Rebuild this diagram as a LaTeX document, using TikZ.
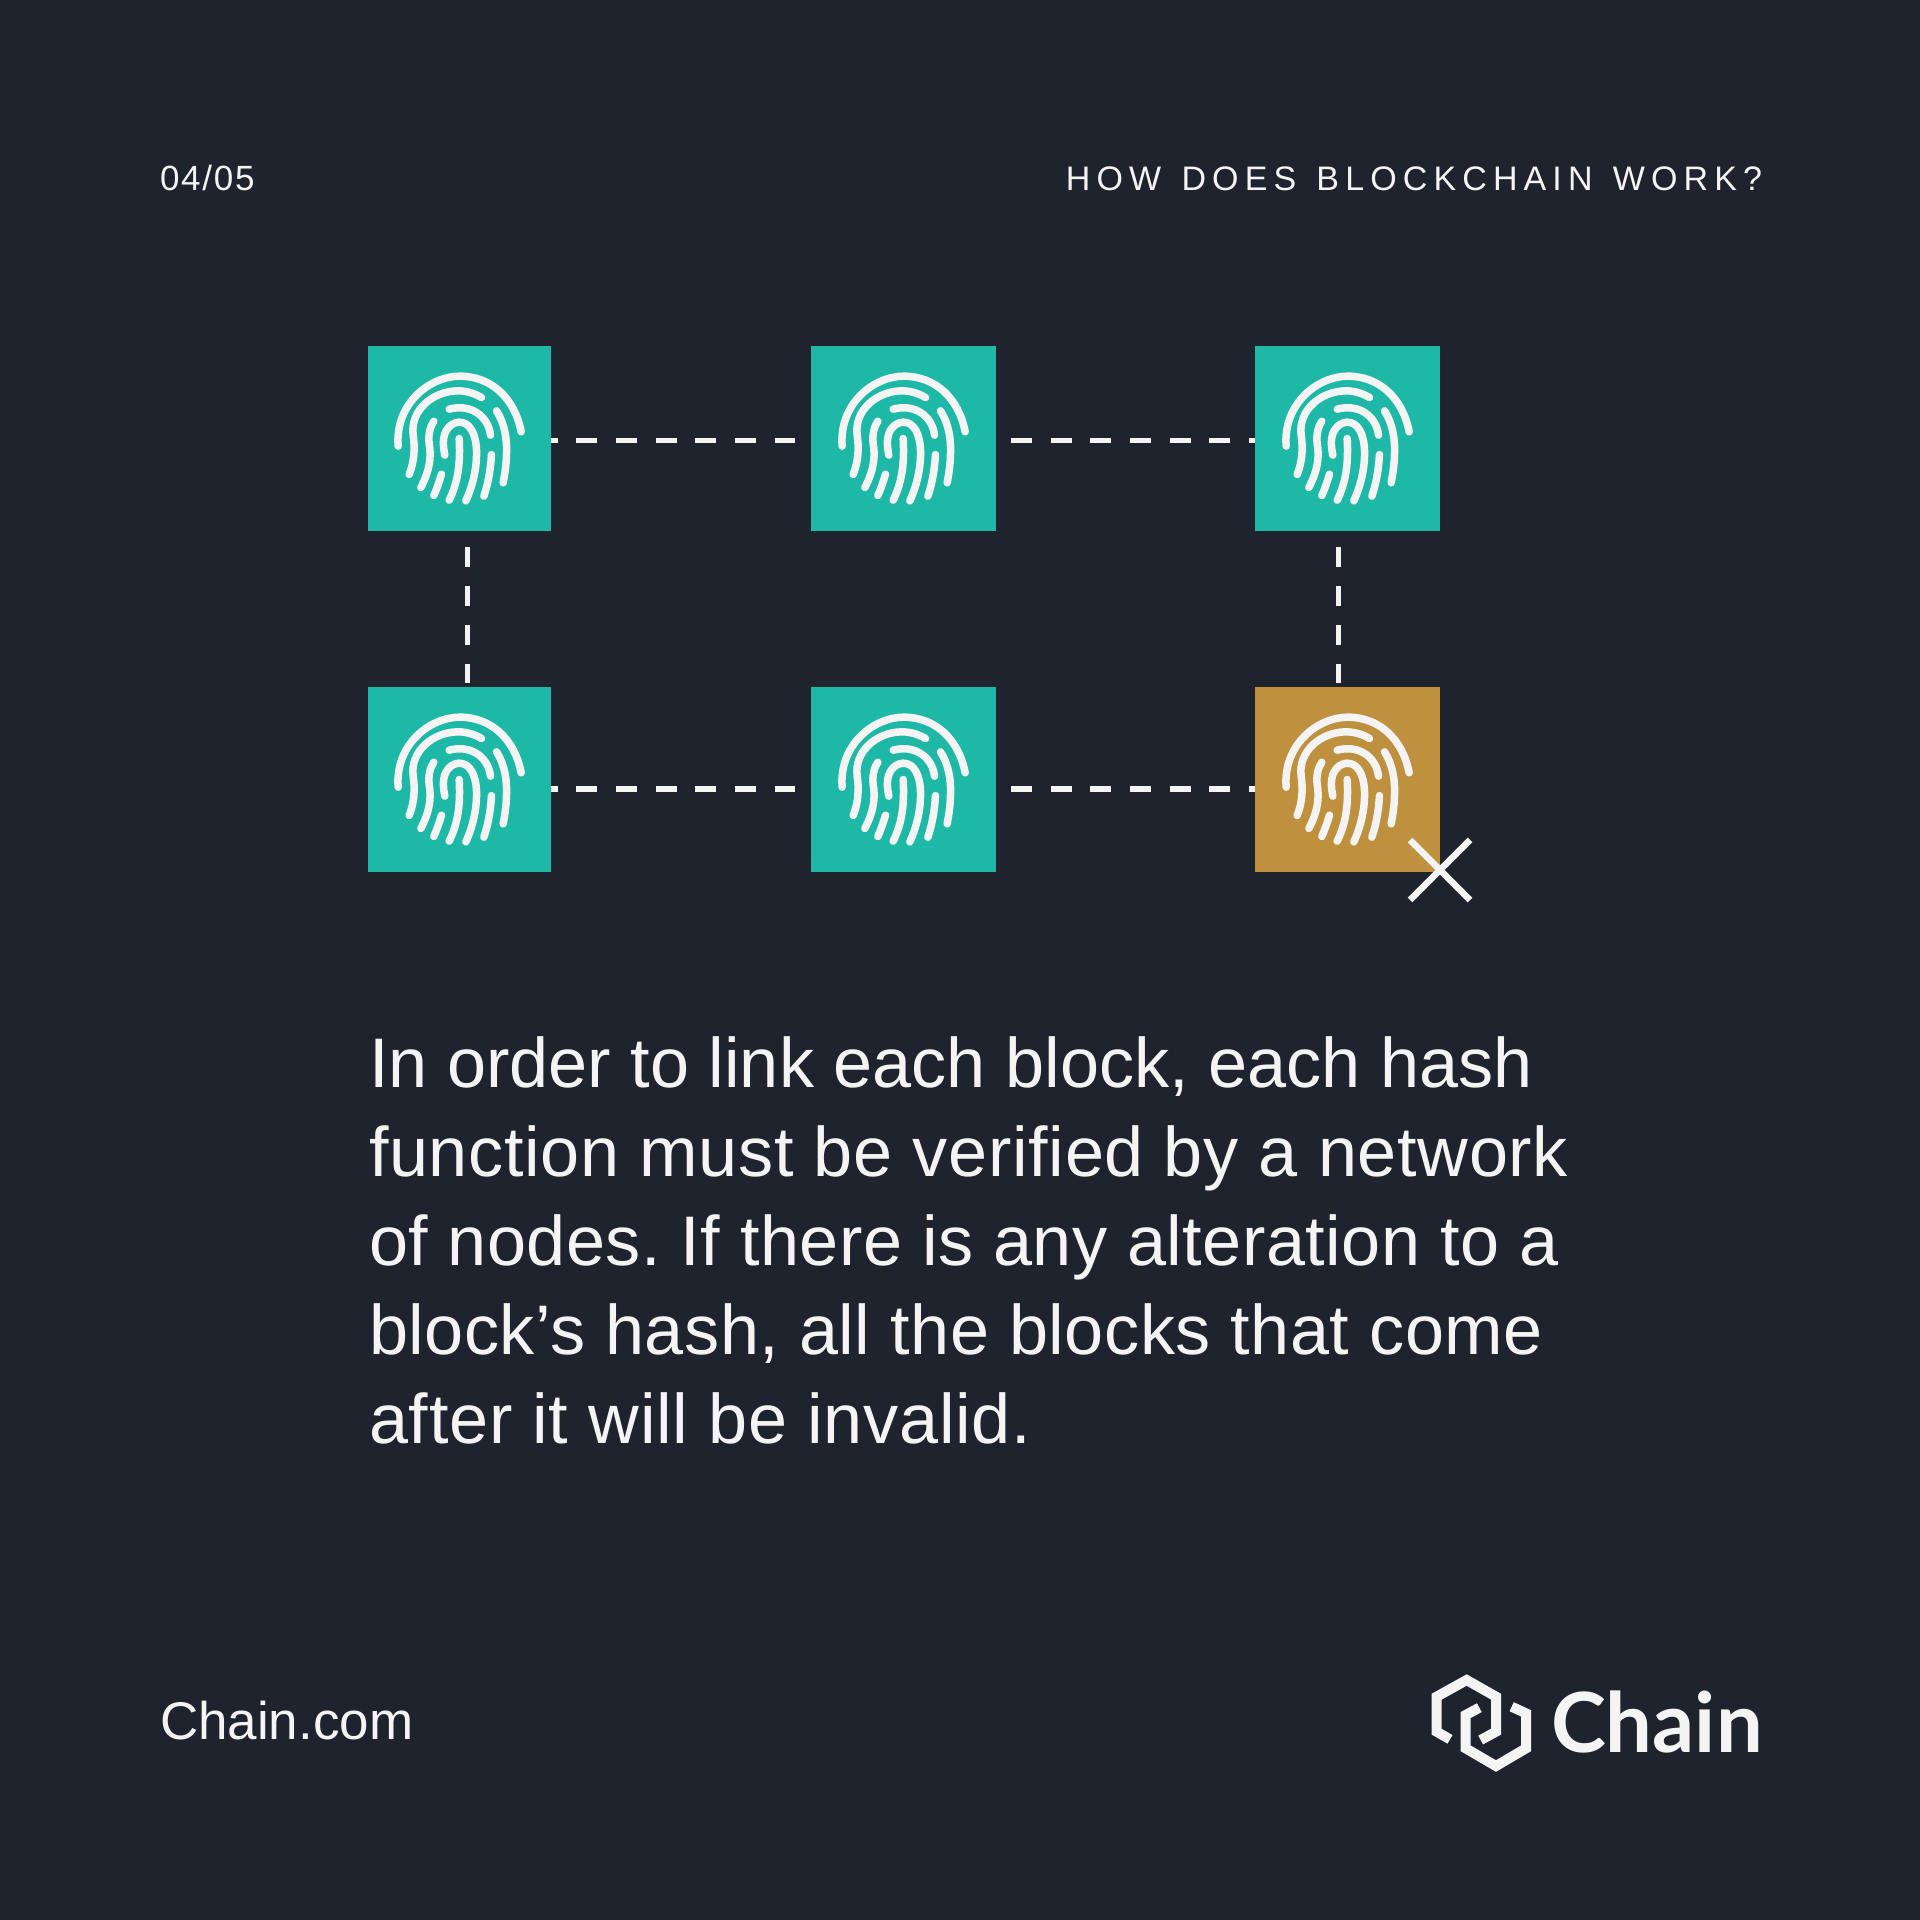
\documentclass[tikz,border=0pt]{standalone}
\usepackage{fontspec}
\setmainfont{Liberation Sans}
\newfontfamily\headfont[LetterSpace=18,WordSpace=1.3]{Liberation Sans}
\newfontfamily\numfont[LetterSpace=5]{Liberation Sans}
\newfontfamily\logofont{Lato}
\usetikzlibrary{calc}
\definecolor{bgc}{HTML}{1F232D}
\definecolor{tealc}{HTML}{1EB9A6}
\definecolor{goldc}{HTML}{BF903E}
\definecolor{inkc}{HTML}{F4F4F4}
\newcommand{\spaced}[2]{{\addfontfeature{LetterSpace=#1}#2}}
\tikzset{
  block/.style={inner sep=0pt,outer sep=0pt,minimum width=185,minimum height=185,fill=tealc},
  bad/.style={block,fill=goldc},
  dashh/.style={draw=inkc,line width=5.5,dash pattern=on 21 off 18.66},
  dashv/.style={draw=inkc,line width=5.5,dash pattern=on 19.5 off 19.4},
  ink/.style={text=inkc,inner sep=0pt,outer sep=0pt},
  ridge/.style={draw=inkc,line width=7.5,line cap=round,fill=none},
  fingerprint/.pic={
    \begin{scope}[scale=1/3,shift={(-299,-295)}]
      \draw[ridge] (115,318) .. controls (105,190) and (210,108) .. (300,108) .. controls (395,108) and (465,175) .. (484,275);
      \draw[ridge] (148,403) .. controls (165,360) and (165,320) .. (160,285) .. controls (150,210) and (220,152) .. (295,152) .. controls (320,152) and (345,160) .. (365,172);
      \draw[ridge] (183,442) .. controls (210,390) and (215,350) .. (208,310) .. controls (205,285) and (210,260) .. (222,243);
      \draw[ridge] (268,207) .. controls (330,190) and (385,225) .. (392,285);
      \draw[ridge] (410,212) .. controls (435,250) and (442,300) .. (440,340) .. controls (440,370) and (435,400) .. (430,428);
      \draw[ridge] (255,345) .. controls (250,320) and (248,300) .. (255,280) .. controls (265,255) and (285,246) .. (298,246) .. controls (330,246) and (348,280) .. (350,330) .. controls (352,390) and (335,445) .. (318,482);
      \draw[ridge] (298,295) .. controls (302,370) and (295,425) .. (268,480);
      \draw[ridge] (245,402) .. controls (238,425) and (230,448) .. (222,466);
      \draw[ridge] (395,343) .. controls (392,390) and (385,430) .. (372,468);
    \end{scope}
  }
}
\begin{document}
\begin{tikzpicture}[x=1pt,y=-1pt]
\useasboundingbox (0,0) rectangle (1920,1920);
\fill[bgc] (0,0) rectangle (1920,1920);
% blocks
\node[block,minimum width=183] (a) at (459.5,438.5) {};
\node[block] (b) at (903.5,438.5) {};
\node[block] (c) at (1347.5,438.5) {};
\node[block,minimum width=183] (d) at (459.5,779.5) {};
\node[block] (e) at (903.5,779.5) {};
\node[bad] (f) at (1347.5,779.5) {};
\foreach \n in {a,b,c,d,e,f} \pic at (\n.center) {fingerprint};
% connectors
\draw[dashh,dash phase=14.3] ([yshift=-2.2]a.east) -- ([xshift=-16,yshift=-2.2]b.west);
\draw[dashh] ([xshift=15,yshift=-2.2]b.east) -- ([yshift=-2.2]c.west);
\draw[dashh,dash phase=14.3] ([yshift=-9.6]d.east) -- ([xshift=-16,yshift=-9.6]e.west);
\draw[dashh] ([xshift=15,yshift=-9.6]e.east) -- ([yshift=-9.6]f.west);
\draw[dashv] ([xshift=8.2,yshift=-16.3]a.south) -- ([xshift=8.2,yshift=4]d.north);
\draw[dashv] ([xshift=-8.8,yshift=-16.3]c.south) -- ([xshift=-8.8,yshift=4]f.north);
% cross
\coordinate (x1) at (1410,840); \coordinate (x2) at (1470,900);
\coordinate (x3) at (1470,840); \coordinate (x4) at (1410,900);
\draw[draw=inkc,line width=6.5] (x1) -- (x2) (x3) -- (x4);
% header
\node[ink,anchor=base west] (num) at (160,190) {\fontsize{35}{40}\numfont 04/05};
\node[ink,anchor=base east] (head) at (1762,190) {\fontsize{34}{40}\headfont HOW DOES BLOCKCHAIN WORK?};
% body
\node[ink,anchor=north west,align=left,font=\fontsize{70.2}{88.8}\selectfont\frenchspacing] (body) at (369,1037) {\spaced{0.05}{In order to link each block, each hash}\\\spaced{0.95}{function must be verified by a network}\\\spaced{0.65}{of nodes. If there is any alteration to a}\\\spaced{0.75}{block’s hash, all the blocks that come}\\\spaced{1.05}{after it will be invalid.}};
% footer
\node[ink,anchor=base west] (site) at (160,1739) {\fontsize{53}{60}\selectfont Chain.com};
\node[ink,anchor=base west] (logo) at (1551,1752) {\fontsize{83}{90}\logofont\bfseries Chain};
% logo mark
\begin{scope}[shift={(1400,1650)},scale=1/3]
  \draw[draw=inkc,line width=10,miter limit=4] (150,268) -- (110,245) -- (110,140) -- (200,90) -- (288,140) -- (288,245) -- (242,270);
  \draw[draw=inkc,line width=10,miter limit=4] (238,173) -- (197,195) -- (197,295) -- (288,348) -- (378,295) -- (378,190) -- (335,170);
\end{scope}
\end{tikzpicture}
\end{document}
